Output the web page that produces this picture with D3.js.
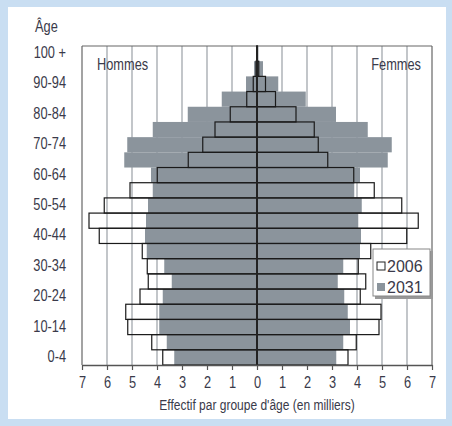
<!DOCTYPE html>
<html>
<head>
<meta charset="utf-8">
<script src="https://cdn.jsdelivr.net/npm/d3@7"></script>
<style>
  body { margin: 0; background: #c9def2; }
  svg text { font-family: "Liberation Sans", Arial, sans-serif; fill: #3a3a4a; }
</style>
</head>
<body>
<div id="chart"></div>
<script>
// age groups, bottom to top
var ages = ["0-4","5-9","10-14","15-19","20-24","25-29","30-34","35-39","40-44","45-49",
            "50-54","55-59","60-64","65-69","70-74","75-79","80-84","85-89","90-94","95-99","100 +"];
var ageLabels = ["100 +","90-94","80-84","70-74","60-64","50-54","40-44","30-34","20-24","10-14","0-4"];

var men2006   = [3.77,4.21,5.17,5.25,4.68,4.35,4.39,4.59,6.31,6.72,6.11,5.08,3.99,2.75,2.17,1.68,1.07,0.41,0.15,0.04,0.01];
var men2031   = [3.31,3.61,3.91,3.91,3.77,3.41,3.71,4.41,4.48,4.44,4.36,4.17,4.24,5.31,5.19,4.17,2.77,1.41,0.44,0.12,0.03];
var women2006 = [3.64,3.97,4.88,4.96,4.13,4.35,4.05,4.55,5.99,6.45,5.79,4.69,3.87,2.83,2.45,2.29,1.56,0.74,0.34,0.07,0.02];
var women2031 = [3.17,3.45,3.72,3.63,3.49,3.23,3.45,4.12,4.16,4.05,4.19,3.89,4.12,5.23,5.39,4.43,3.16,1.95,0.85,0.24,0.05];

var xTicks = [-7,-6,-5,-4,-3,-2,-1,0,1,2,3,4,5,6,7];

var W = 452, H = 426;
var grey = "#8b949c";
var squeeze = 0.8; // condensed look

var svg = d3.select("#chart").append("svg")
    .attr("width", W).attr("height", H);

// narrow text helper
function label(x, y, str, size, anchor) {
  return svg.append("text")
    .attr("transform", "translate(" + x + "," + y + ") scale(" + squeeze + ",1)")
    .attr("text-anchor", anchor || "start")
    .style("font-size", size + "px")
    .text(str);
}

// white panel
svg.append("rect")
    .attr("x", 8).attr("y", 7).attr("width", 438).attr("height", 412)
    .attr("fill", "#fff");

var x = d3.scaleLinear().domain([-7, 7]).range([82, 432]);
var y = d3.scaleBand().domain(ages.slice().reverse()).range([46, 365]).padding(0);

// grid lines
svg.append("g").selectAll("line")
  .data(xTicks.filter(function(d) { return d !== 0; }))
  .enter().append("line")
    .attr("x1", function(d) { return x(d); })
    .attr("x2", function(d) { return x(d); })
    .attr("y1", 46).attr("y2", 365)
    .attr("stroke", function(d) { return Math.abs(d) === 7 ? "#666" : "#a9aeb3"; })
    .attr("stroke-width", function(d) { return Math.abs(d) === 7 ? 1.2 : 1.4; });

// top frame
svg.append("line")
    .attr("x1", x(-7)).attr("x2", x(7)).attr("y1", 46).attr("y2", 46)
    .attr("stroke", "#666").attr("stroke-width", 1.2);

var rows = ages.map(function(a, i) {
  return {age: a, m06: men2006[i], m31: men2031[i], w06: women2006[i], w31: women2031[i]};
});

// 2031 filled bars
svg.append("g").selectAll("rect")
  .data(rows).enter().append("rect")
    .attr("x", function(d) { return x(-d.m31); })
    .attr("y", function(d) { return y(d.age); })
    .attr("width", function(d) { return x(0) - x(-d.m31); })
    .attr("height", y.bandwidth())
    .attr("fill", grey);
svg.append("g").selectAll("rect")
  .data(rows).enter().append("rect")
    .attr("x", x(0))
    .attr("y", function(d) { return y(d.age); })
    .attr("width", function(d) { return x(d.w31) - x(0); })
    .attr("height", y.bandwidth())
    .attr("fill", grey);

// 2006 outline bars
svg.append("g").selectAll("rect")
  .data(rows).enter().append("rect")
    .attr("x", function(d) { return x(-d.m06); })
    .attr("y", function(d) { return y(d.age); })
    .attr("width", function(d) { return x(0) - x(-d.m06); })
    .attr("height", y.bandwidth())
    .attr("fill", "none").attr("stroke", "#1a1a1a").attr("stroke-width", 1.2);
svg.append("g").selectAll("rect")
  .data(rows).enter().append("rect")
    .attr("x", x(0))
    .attr("y", function(d) { return y(d.age); })
    .attr("width", function(d) { return x(d.w06) - x(0); })
    .attr("height", y.bandwidth())
    .attr("fill", "none").attr("stroke", "#1a1a1a").attr("stroke-width", 1.2);

// zero line
svg.append("line")
    .attr("x1", x(0)).attr("x2", x(0)).attr("y1", 46).attr("y2", 365)
    .attr("stroke", "#222").attr("stroke-width", 2);

// x axis
var xAxis = svg.append("g")
    .attr("transform", "translate(0,365)")
    .call(d3.axisBottom(x).tickValues(xTicks).tickSize(5).tickSizeOuter(0)
      .tickFormat(function(d) { return Math.abs(d); }));
xAxis.select(".domain").attr("stroke", "#555").attr("stroke-width", 1.4);
xAxis.selectAll(".tick line").attr("stroke", "#555").attr("stroke-width", 1.2);
xAxis.selectAll(".tick text")
    .attr("y", 8).attr("dy", "0.95em")
    .attr("transform", "scale(" + squeeze + ",1)")
    .style("font-size", "16px").style("font-family", "'Liberation Sans', Arial, sans-serif")
    .attr("fill", "#3a3a4a");

label(x(0), 410, "Effectif par groupe d'âge (en milliers)", 15, "middle");

// age labels
ageLabels.forEach(function(a) {
  label(66, y(a) + y.bandwidth() / 2 + 4.5, a, 16, "end");
});

label(35, 32, "Âge", 16);
label(97, 70, "Hommes", 16);
label(421, 70, "Femmes", 16, "end");

// legend
var lg = svg.append("g").attr("transform", "translate(373,249)");
lg.append("rect").attr("x", 2).attr("y", 2).attr("width", 58).attr("height", 48)
    .attr("fill", "#999");
lg.append("rect").attr("x", 0).attr("y", 0).attr("width", 57).attr("height", 47)
    .attr("fill", "#fff").attr("stroke", "#888").attr("stroke-width", 1);
lg.append("rect").attr("x", 4).attr("y", 13).attr("width", 8).attr("height", 8)
    .attr("fill", "#fff").attr("stroke", "#222").attr("stroke-width", 1);
lg.append("rect").attr("x", 4).attr("y", 34).attr("width", 8).attr("height", 8)
    .attr("fill", grey);
lg.append("text").attr("x", 14).attr("y", 23)
    .style("font-size", "16px").text("2006");
lg.append("text").attr("x", 14).attr("y", 44)
    .style("font-size", "16px").text("2031");
</script>
</body>
</html>
